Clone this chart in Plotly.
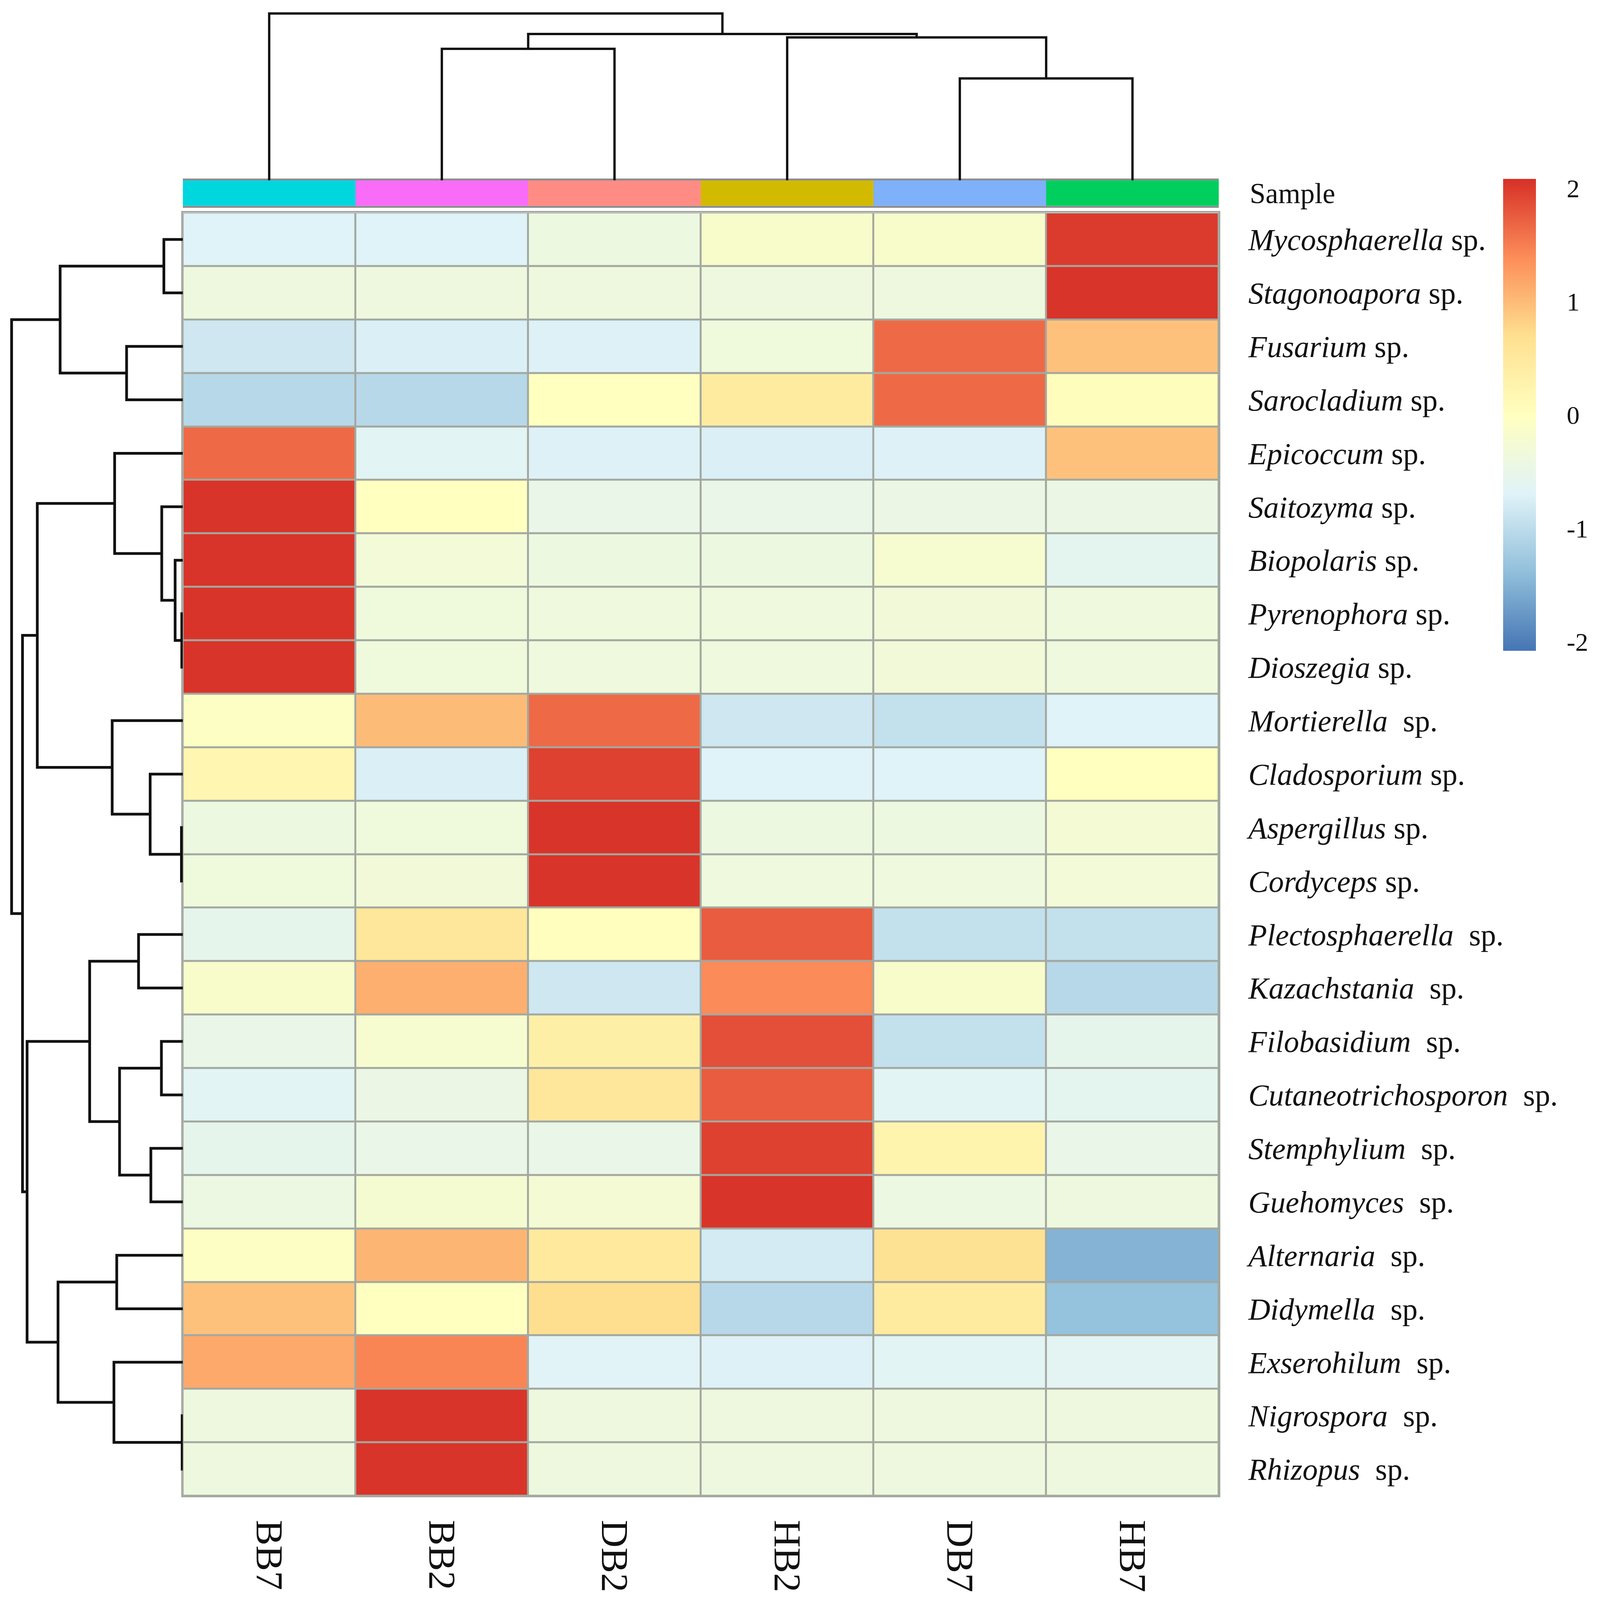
import plotly.graph_objects as go

W = 4550
H = 4737

col_labels = ['BB7', 'BB2', 'DB2', 'HB2', 'DB7', 'HB7']
row_labels = [
    '<i>Mycosphaerella</i> sp.', '<i>Stagonoapora</i> sp.', '<i>Fusarium</i> sp.',
    '<i>Sarocladium</i> sp.', '<i>Epicoccum</i> sp.', '<i>Saitozyma</i> sp.',
    '<i>Biopolaris</i> sp.', '<i>Pyrenophora</i> sp.', '<i>Dioszegia</i> sp.',
    '<i>Mortierella</i>\u00a0 sp.', '<i>Cladosporium</i> sp.', '<i>Aspergillus</i> sp.',
    '<i>Cordyceps</i> sp.', '<i>Plectosphaerella</i>\u00a0 sp.', '<i>Kazachstania</i>\u00a0 sp.',
    '<i>Filobasidium</i>\u00a0 sp.', '<i>Cutaneotrichosporon</i>\u00a0 sp.', '<i>Stemphylium</i>\u00a0 sp.',
    '<i>Guehomyces</i>\u00a0 sp.', '<i>Alternaria</i>\u00a0 sp.', '<i>Didymella</i>\u00a0 sp.',
    '<i>Exserohilum</i>\u00a0 sp.', '<i>Nigrospora</i>\u00a0 sp.', '<i>Rhizopus</i>\u00a0 sp.',
]

# z scores, one row per taxon
values = [
    [-0.70, -0.70, -0.40, -0.15, -0.15, 2.00],
    [-0.38, -0.38, -0.38, -0.38, -0.38, 2.05],
    [-0.85, -0.75, -0.72, -0.35, 1.65, 0.95],
    [-1.05, -1.05, 0.00, 0.45, 1.65, 0.05],
    [1.65, -0.65, -0.72, -0.75, -0.72, 0.95],
    [2.05, 0.00, -0.50, -0.50, -0.45, -0.45],
    [2.05, -0.30, -0.40, -0.40, -0.20, -0.60],
    [2.05, -0.35, -0.37, -0.37, -0.32, -0.37],
    [2.05, -0.35, -0.37, -0.37, -0.32, -0.37],
    [-0.05, 1.00, 1.65, -0.85, -0.95, -0.70],
    [0.20, -0.75, 1.95, -0.70, -0.70, 0.00],
    [-0.40, -0.35, 2.05, -0.40, -0.40, -0.25],
    [-0.35, -0.32, 2.05, -0.37, -0.37, -0.30],
    [-0.55, 0.55, 0.02, 1.75, -0.95, -0.95],
    [-0.15, 1.10, -0.85, 1.40, -0.15, -1.05],
    [-0.50, -0.20, 0.35, 1.85, -0.95, -0.55],
    [-0.65, -0.45, 0.55, 1.75, -0.65, -0.60],
    [-0.55, -0.50, -0.50, 1.95, 0.25, -0.50],
    [-0.42, -0.22, -0.25, 2.05, -0.42, -0.38],
    [-0.05, 1.05, 0.50, -0.80, 0.65, -1.50],
    [0.95, 0.00, 0.70, -1.05, 0.45, -1.35],
    [1.15, 1.45, -0.68, -0.72, -0.65, -0.62],
    [-0.38, 2.05, -0.38, -0.38, -0.38, -0.38],
    [-0.38, 2.05, -0.38, -0.38, -0.38, -0.38],
]

sample_colors = ['#00D6DE', '#F96CF8', '#FF8C84', '#D2BA00', '#7FB0FA', '#00CF5E']
heat_colors = ['#4575B4', '#91BFDB', '#E0F3F8', '#FFFFBF', '#FEE090', '#FC8D59', '#D73027']

# linkage tables: (left node, right node, distance), new nodes numbered after the leaves
col_links = [(4, 5, 303), (3, 6, 425), (1, 2, 391), (8, 7, 435), (0, 9, 496)]
row_links = [
    (0, 1, 54), (2, 3, 160), (24, 25, 349), (7, 8, 3), (6, 27, 22), (5, 28, 60),
    (4, 29, 194), (11, 12, 4), (10, 31, 93), (9, 32, 201), (30, 33, 414),
    (13, 14, 126), (15, 16, 61), (17, 18, 91), (36, 37, 180), (35, 38, 265),
    (19, 20, 188), (22, 23, 2), (21, 41, 196), (40, 42, 355), (39, 43, 443),
    (34, 44, 456), (26, 45, 487),
]


def dendro_paths(links, n_leaves):
    pos = {i: float(i) for i in range(n_leaves)}
    dist = {i: 0.0 for i in range(n_leaves)}
    p_out, d_out = [], []
    for k, (a, b, d) in enumerate(links):
        p_out += [pos[a], pos[a], pos[b], pos[b], None]
        d_out += [dist[a], d, d, dist[b], None]
        pos[n_leaves + k] = (pos[a] + pos[b]) / 2
        dist[n_leaves + k] = d
    return p_out, d_out


def fx(px):
    return px / W


def fy(px):
    return (H - px) / H


n_rows = len(row_labels)
n_cols = len(col_labels)
grid_color = '#A3A8A0'
font_family = 'Liberation Serif'
text_color = '#111111'

scale = [[i / (len(heat_colors) - 1), c] for i, c in enumerate(heat_colors)]
sample_scale = []
for i, c in enumerate(sample_colors):
    sample_scale += [[i / n_cols, c], [(i + 1) / n_cols, c]]

fig = go.Figure()

fig.add_trace(go.Heatmap(
    z=values, x=list(range(n_cols)), y=list(range(n_rows)),
    colorscale=scale, zmin=-2.08, zmax=2.08, xgap=5, ygap=5, xaxis='x', yaxis='y',
    hoverinfo='skip',
    colorbar=dict(
        x=fx(4275), xanchor='left', y=fy(524), yanchor='top',
        lenmode='fraction', len=1403 / H, thicknessmode='fraction', thickness=93 / W,
        xpad=0, ypad=0, outlinewidth=0, borderwidth=0,
        tickvals=[2, 1, 0, -1, -2], ticktext=['2', '1', '0', '-1', '-2'],
        ticks='outside', ticklen=66, tickcolor='rgba(0,0,0,0)',
        tickfont=dict(family=font_family, size=66, color=text_color),
    ),
))

fig.add_trace(go.Heatmap(
    z=[list(range(n_cols))], x=list(range(n_cols)), y=['Sample'],
    colorscale=sample_scale, zmin=-0.5, zmax=n_cols - 0.5, showscale=False,
    xaxis='x2', yaxis='y2', hoverinfo='skip',
))

cx, cy = dendro_paths(col_links, n_cols)
fig.add_trace(go.Scatter(x=cx, y=cy, mode='lines', xaxis='x3', yaxis='y3',
                         line=dict(color=text_color, width=6), showlegend=False, hoverinfo='skip'))

ry, rx = dendro_paths(row_links, n_rows)
fig.add_trace(go.Scatter(x=rx, y=ry, mode='lines', xaxis='x4', yaxis='y4',
                         line=dict(color=text_color, width=7), showlegend=False, hoverinfo='skip'))

hidden = dict(showgrid=False, zeroline=False, showticklabels=False, ticks='')
x_dom = [fx(520), fx(3466)]
y_dom = [fy(4438), fy(624)]

fig.update_layout(
    autosize=True,
    margin=dict(l=0, r=0, t=0, b=0, pad=0),
    paper_bgcolor='white', plot_bgcolor='white',
    showlegend=False,
    shapes=[dict(type='rect', xref='x', yref='y', layer='below', x0=-0.5, x1=n_cols - 0.5,
                 y0=-0.5, y1=n_rows - 0.5, fillcolor=grid_color, line=dict(width=0))],
    xaxis=dict(domain=x_dom, range=[-0.5, n_cols - 0.5], anchor='y', side='bottom',
               tickmode='array', tickvals=list(range(n_cols)), ticktext=col_labels,
               tickangle=90, ticks='', ticklabelstandoff=38, showgrid=False, zeroline=False,
               showline=True, mirror=True, linecolor=grid_color, linewidth=4,
               tickfont=dict(family=font_family, size=98, color=text_color)),
    yaxis=dict(domain=y_dom, range=[n_rows - 0.5, -0.5], anchor='x', side='right',
               tickmode='array', tickvals=list(range(n_rows)), ticktext=row_labels,
               ticks='', ticklabelstandoff=56, showgrid=False, zeroline=False,
               showline=True, mirror=True, linecolor=grid_color, linewidth=4,
               tickfont=dict(family=font_family, size=78, color=text_color)),
    xaxis2=dict(domain=x_dom, range=[-0.5, n_cols - 0.5], anchor='y2', showline=True, mirror=True,
                linecolor='#8E8E8E', linewidth=5, **hidden),
    yaxis2=dict(domain=[fy(604), fy(528)], anchor='x2', side='right',
                type='category', ticks='', ticklabelstandoff=78, showgrid=False, zeroline=False,
                showline=False,
                tickfont=dict(family=font_family, size=73, color=text_color)),
    xaxis3=dict(domain=x_dom, range=[-0.5, n_cols - 0.5], anchor='y3', showline=False, **hidden),
    yaxis3=dict(domain=[fy(528), fy(0)], range=[0, 528], anchor='x3', showline=False, **hidden),
    xaxis4=dict(domain=[fx(0), fx(520)], range=[520, 0], anchor='y4', showline=False, **hidden),
    yaxis4=dict(domain=y_dom, range=[n_rows - 0.5, -0.5], anchor='x4', showline=False, **hidden),
)

# plotly's default page keeps a body margin; drop it so the figure fills the whole window
fill_window = """
var gd = document.getElementById('{plot_id}');
document.body.style.margin = '0';
document.body.style.overflow = 'hidden';
gd.style.width = '100vw';
gd.style.height = '100vh';
Plotly.Plots.resize(gd);
"""

fig.write_html("out.html", default_width='100%', default_height='100%', post_script=fill_window,
               config={'displayModeBar': False})
